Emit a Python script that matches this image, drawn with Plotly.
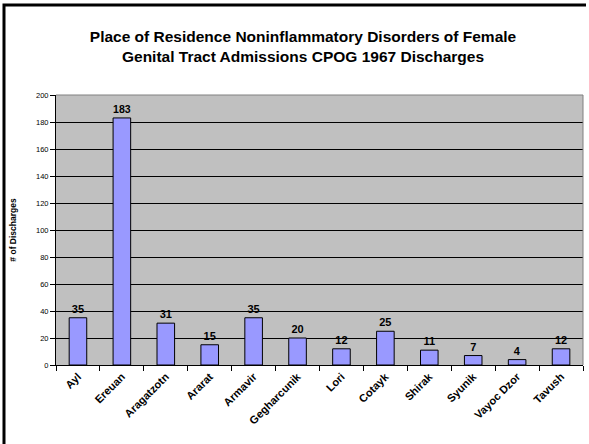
import plotly.graph_objects as go

categories = ["Ayl", "Ereuan", "Aragatzotn", "Ararat", "Armavir", "Gegharcunik",
              "Lori", "Cotayk", "Shirak", "Syunik", "Vayoc Dzor", "Tavush"]
discharges = [35, 183, 31, 15, 35, 20, 12, 25, 11, 7, 4, 12]
y_ticks = [0, 20, 40, 60, 80, 100, 120, 140, 160, 180, 200]

fig = go.Figure()
fig.add_trace(go.Bar(
    x=categories, y=discharges,
    marker=dict(color="#9999FF", line=dict(color="black", width=1)),
    text=[str(v) for v in discharges], textposition="outside",
    textfont=dict(family="Arial, Liberation Sans", size=11, color="black", weight="bold"),
    cliponaxis=False,
))

fig.update_layout(
    width=589, height=444,
    margin=dict(l=56, r=6, t=95, b=79),
    paper_bgcolor="white", plot_bgcolor="#C0C0C0",
    bargap=0.6, showlegend=False,
    title=dict(
        text="Place of Residence Noninflammatory Disorders of Female<br>Genital Tract Admissions CPOG 1967 Discharges",
        x=303/589, xanchor="center", xref="container", y=1-42/444, yanchor="middle",
        font=dict(family="Arial, Liberation Sans", size=15.5, color="black", weight="bold"),
    ),
    font=dict(family="Arial, Liberation Sans", color="black"),
)
fig.update_xaxes(
    tickangle=-45, tickfont=dict(size=11, weight="bold"),
    showline=True, linecolor="black", linewidth=1,
    ticks="outside", tickson="boundaries", ticklen=5, tickcolor="black",
    mirror=False, showgrid=False,
)
fig.update_yaxes(
    range=[0, 200], tickvals=y_ticks, tickfont=dict(size=7.5),
    showline=True, linecolor="black", linewidth=1,
    ticks="outside", ticklen=5, tickcolor="black",
    showgrid=True, gridcolor="black", gridwidth=1, zeroline=False,
    title=dict(text="# of Discharges", font=dict(size=8.5, weight="bold"), standoff=18),
)
# plot area top/right gray border
fig.add_shape(type="line", xref="paper", yref="paper", x0=0, x1=1, y0=1, y1=1,
              line=dict(color="#808080", width=1))
fig.add_shape(type="line", xref="paper", yref="paper", x0=1, x1=1, y0=0, y1=1,
              line=dict(color="#808080", width=1))
# outer chart frame: only left and top edges visible (right/bottom cropped off)
fig.add_shape(type="path", xref="paper", yref="paper",
              path="M %f %f L %f %f L %f %f" % (-52/527, -79/270, -52/527, 360/270, 530/527, 360/270),
              line=dict(color="black", width=3), layer="above")
fig.write_html("out.html", config={"displayModeBar": False},
               post_script="document.body.style.margin='0';document.body.style.overflow='hidden';")
